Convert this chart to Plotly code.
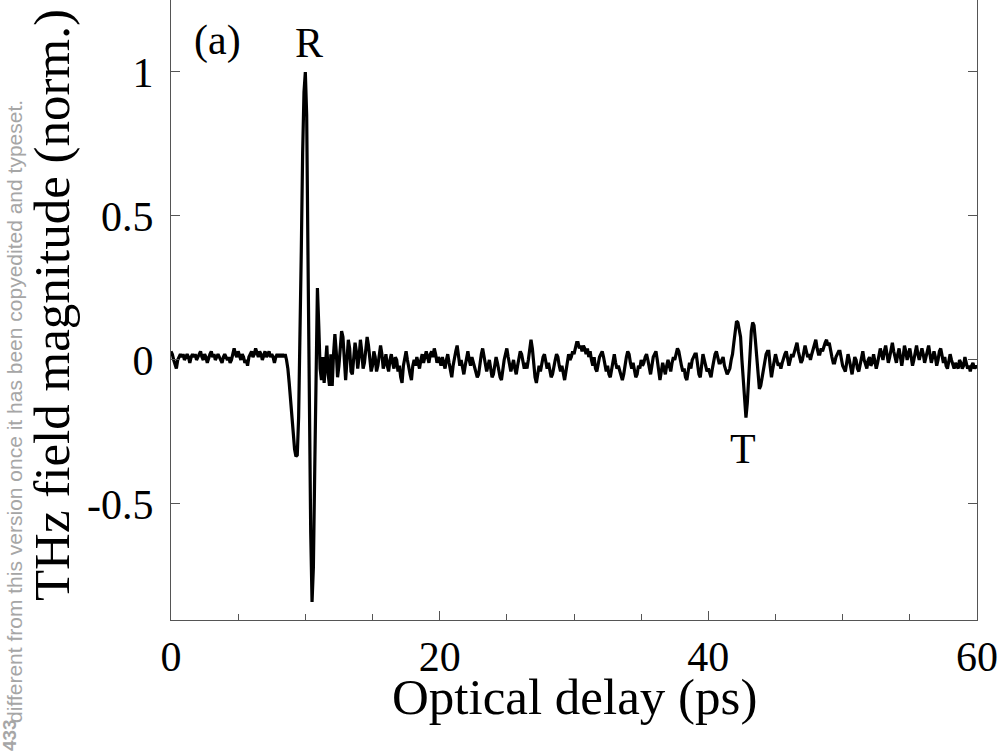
import numpy as np
import plotly.graph_objects as go

# sampling grid of the trace (ps), 0.1 ps step
delay_ps = np.round(np.arange(0, 60.05, 0.1), 1)

# normalised THz field (one row = 2 ps)
field_norm = [
    0.03, 0.02, 0.00, -0.02, -0.03, 0.00, 0.01, 0.02, 0.01, 0.02, 0.00, 0.01, 0.02, 0.01, -0.01, 0.01, 0.02, 0.01, 0.02, 0.00,
    0.01, 0.02, 0.03, 0.01, 0.00, 0.02, 0.01, -0.01, 0.01, 0.02, 0.03, 0.01, 0.02, 0.00, 0.01, 0.02, 0.01, 0.00, -0.01, 0.01,
    0.02, 0.01, 0.00, 0.01, -0.01, 0.00, 0.02, 0.04, 0.02, 0.01, 0.03, 0.01, 0.00, 0.02, 0.01, -0.01, 0.00, -0.02, 0.01, 0.02,
    0.03, 0.01, 0.02, 0.04, 0.02, 0.01, 0.03, 0.02, 0.00, 0.02, 0.03, 0.01, 0.02, 0.03, 0.01, 0.02, 0.01, -0.01, 0.01, 0.02,
    0.01, 0.02, 0.01, 0.02, 0.01, 0.02, 0.00, -0.03, -0.08, -0.14, -0.20, -0.26, -0.31, -0.335, -0.33, -0.20, 0.05, 0.38, 0.72, 0.93,
    1.00, 0.85, 0.35, -0.15, -0.60, -0.84, -0.72, -0.38, -0.02, 0.25, 0.12, -0.03, -0.07, 0.01, -0.08, -0.03, 0.05, -0.05, -0.09, 0.02,
    -0.09, 0.02, 0.09, 0.03, -0.06, -0.02, 0.06, 0.10, 0.08, -0.01, -0.07, 0.00, 0.07, 0.04, -0.04, -0.05, 0.02, 0.06, 0.03, -0.03,
    0.01, 0.07, 0.03, -0.03, -0.01, 0.04, 0.08, 0.05, 0.00, -0.04, -0.02, 0.03, 0.01, -0.04, -0.02, 0.02, 0.05, 0.02, -0.03, -0.01,
    0.02, -0.02, -0.04, 0.00, 0.02, -0.01, -0.03, 0.01, 0.00, -0.04, -0.02, -0.06, -0.08, -0.02, 0.01, 0.03, 0.00, -0.03, -0.05, -0.07,
    -0.02, 0.00, -0.02, 0.01, -0.01, -0.03, 0.00, 0.02, -0.01, 0.01, 0.03, 0.01, -0.01, 0.02, 0.03, 0.01, 0.04, 0.02, -0.01, 0.01,
    0.00, -0.02, 0.01, -0.01, -0.03, 0.00, 0.02, -0.01, -0.04, -0.06, -0.02, 0.01, 0.03, 0.05, 0.01, -0.02, 0.00, -0.03, -0.05, -0.02,
    0.01, 0.03, 0.00, -0.02, 0.01, -0.01, -0.03, -0.04, -0.06, -0.05, -0.01, 0.02, 0.04, 0.01, -0.02, -0.04, -0.02, 0.00, -0.03, -0.06,
    -0.05, -0.02, 0.01, -0.01, -0.04, -0.06, -0.07, -0.03, 0.00, 0.02, 0.04, 0.01, -0.02, -0.04, -0.02, 0.00, -0.03, -0.05, -0.02, 0.01,
    0.03, 0.02, -0.01, -0.03, -0.01, -0.03, 0.00, 0.04, 0.07, 0.04, -0.02, -0.06, -0.08, -0.05, -0.02, -0.04, -0.01, 0.01, 0.02, -0.01,
    -0.03, -0.01, -0.04, -0.06, -0.05, -0.02, 0.00, 0.02, 0.01, -0.02, -0.04, -0.02, -0.05, -0.07, -0.04, -0.01, 0.02, 0.00, 0.01, 0.03,
    0.02, 0.04, 0.06, 0.06, 0.04, 0.05, 0.03, 0.05, 0.04, 0.02, 0.04, 0.01, 0.03, 0.00, -0.02, 0.01, -0.03, -0.04, -0.01, 0.01,
    0.02, 0.03, 0.01, -0.02, -0.04, -0.02, -0.05, -0.06, -0.03, 0.00, 0.02, -0.01, -0.03, -0.02, -0.04, -0.06, -0.07, -0.05, -0.01, 0.01,
    0.03, 0.02, -0.01, -0.03, -0.01, -0.04, -0.06, -0.05, -0.02, -0.03, 0.00, -0.02, -0.01, 0.01, 0.02, 0.00, -0.03, -0.05, -0.02, 0.01,
    0.02, 0.03, 0.00, -0.04, -0.07, -0.04, -0.01, -0.03, -0.05, -0.02, 0.00, -0.02, -0.04, -0.01, 0.01, 0.00, 0.02, 0.04, 0.03, 0.00,
    -0.02, -0.04, -0.03, -0.06, -0.07, -0.04, -0.01, -0.03, 0.00, 0.01, 0.02, 0.02, -0.02, -0.05, -0.06, -0.02, 0.02, 0.00, -0.02, -0.04,
    -0.03, -0.05, -0.06, -0.03, 0.00, 0.02, 0.03, 0.01, -0.01, -0.01, 0.00, 0.01, -0.02, -0.04, -0.05, -0.04, -0.03, 0.00, 0.02, 0.06,
    0.11, 0.135, 0.13, 0.11, 0.08, 0.00, -0.08, -0.16, -0.20, -0.15, -0.06, 0.03, 0.10, 0.13, 0.12, 0.07, 0.00, -0.06, -0.10, -0.09,
    -0.06, -0.03, 0.00, 0.02, 0.03, 0.03, -0.02, -0.06, -0.03, 0.00, 0.02, 0.00, -0.02, -0.01, -0.03, -0.01, 0.01, 0.02, 0.03, 0.00,
    -0.02, 0.00, 0.02, 0.01, 0.03, 0.05, 0.06, 0.03, 0.01, -0.01, 0.00, 0.03, 0.05, 0.03, 0.01, 0.02, 0.00, 0.02, 0.04, 0.06,
    0.07, 0.04, 0.02, 0.02, 0.04, 0.03, 0.05, 0.06, 0.07, 0.05, 0.06, 0.03, 0.01, -0.01, -0.01, 0.01, 0.02, 0.03, 0.03, 0.00,
    -0.02, -0.03, -0.04, -0.01, 0.02, 0.00, -0.03, -0.05, -0.02, 0.01, 0.00, -0.03, -0.04, -0.02, 0.01, 0.03, 0.00, -0.02, -0.03, 0.00,
    0.01, -0.02, -0.01, 0.02, 0.00, -0.03, -0.01, 0.02, 0.04, 0.02, 0.00, 0.03, 0.05, 0.02, -0.01, 0.01, 0.04, 0.06, 0.03, 0.01,
    -0.01, 0.02, 0.04, 0.01, -0.02, 0.01, 0.05, 0.03, 0.00, 0.02, 0.04, 0.01, -0.02, 0.00, 0.03, 0.05, 0.02, 0.00, 0.02, 0.04,
    0.02, -0.01, 0.01, 0.03, 0.05, 0.02, -0.01, 0.01, 0.03, 0.01, -0.02, 0.00, 0.03, 0.04, 0.01, -0.01, 0.01, -0.02, -0.03, 0.00,
    0.02, 0.00, -0.02, -0.03, -0.01, -0.02, -0.03, 0.00, -0.01, -0.03, -0.02, 0.01, -0.01, -0.03, -0.02, -0.04, -0.02, -0.01, -0.03, -0.02,
    -0.03,
]

x_ticks = [0, 20, 40, 60]
y_ticks = [-0.5, 0, 0.5, 1]
y_tick_text = ['-0.5', '0', '0.5', '1']

# peak labels: (text, delay, field)
peak_labels = [('(a)', 3.45, 1.11), ('R', 10.25, 1.10), ('T', 42.6, -0.31)]

serif = 'Liberation Serif, Times New Roman, serif'
sans = 'Liberation Sans, Arial, sans-serif'
axis_grey = '#555555'

fig = go.Figure()
fig.add_trace(go.Scatter(
    x=delay_ps, y=field_norm, mode='lines',
    line=dict(color='black', width=3.2),
    showlegend=False, hoverinfo='skip'
))

for txt, xv, yv in peak_labels:
    fig.add_annotation(x=xv, y=yv, text=txt, showarrow=False,
                       font=dict(family=serif, size=42, color='black'))

# axis titles placed by hand (paper coords) to sit where the original has them
fig.add_annotation(xref='paper', yref='paper', x=0.5, y=-0.124,
                   xanchor='center', yanchor='middle', showarrow=False,
                   text='Optical delay (ps)',
                   font=dict(family=serif, size=51, color='black'))
fig.add_annotation(xref='paper', yref='paper', x=-0.1476, y=0.508,
                   xanchor='center', yanchor='middle', showarrow=False,
                   textangle=-90, text='THz field magnitude (norm.)',
                   font=dict(family=serif, size=51, color='black'))

# watermark of the preprint, rotated along the left edge
fig.add_annotation(
    xref='paper', yref='paper', x=-0.195, y=0.337,
    xanchor='center', yanchor='middle',
    text='different from this version once it has been copyedited and typeset.',
    textangle=-90, showarrow=False,
    font=dict(family=sans, size=21, color='#a6a6a6')
)
fig.add_annotation(
    xref='paper', yref='paper', x=-0.2, y=-0.186,
    xanchor='center', yanchor='middle', text='<b>433</b>',
    textangle=-90, showarrow=False,
    font=dict(family=sans, size=19, color='#a6a6a6')
)

fig.update_xaxes(
    range=[0, 60], tickvals=x_ticks, ticktext=[str(v) for v in x_ticks],
    ticks='inside', ticklen=9, tickcolor=axis_grey, tickwidth=1,
    showline=True, linecolor=axis_grey, linewidth=1, mirror=False,
    showgrid=False, zeroline=False, automargin=False,
    tickfont=dict(family=serif, size=42, color='black'),
    minor=dict(dtick=5, ticks='inside', ticklen=6, tickcolor=axis_grey)
)
fig.update_yaxes(
    range=[-0.903, 1.25], tickvals=y_ticks, ticktext=y_tick_text,
    ticks='inside', ticklen=9, tickcolor=axis_grey, tickwidth=1,
    showline=True, linecolor=axis_grey, linewidth=1, mirror='ticks',
    showgrid=False, zeroline=False, automargin=False,
    tickfont=dict(family=serif, size=42, color='black'),
    ticklabelstandoff=8
)

fig.update_layout(
    width=1000, height=752,
    margin=dict(l=171, r=23, t=0, b=132),
    paper_bgcolor='white', plot_bgcolor='white',
    showlegend=False
)

# drop the browser's default 8px body margin so the figure sits at (0, 0)
fig.write_html('out.html', config={'displayModeBar': False},
               post_script="document.body.style.margin='0px';")
